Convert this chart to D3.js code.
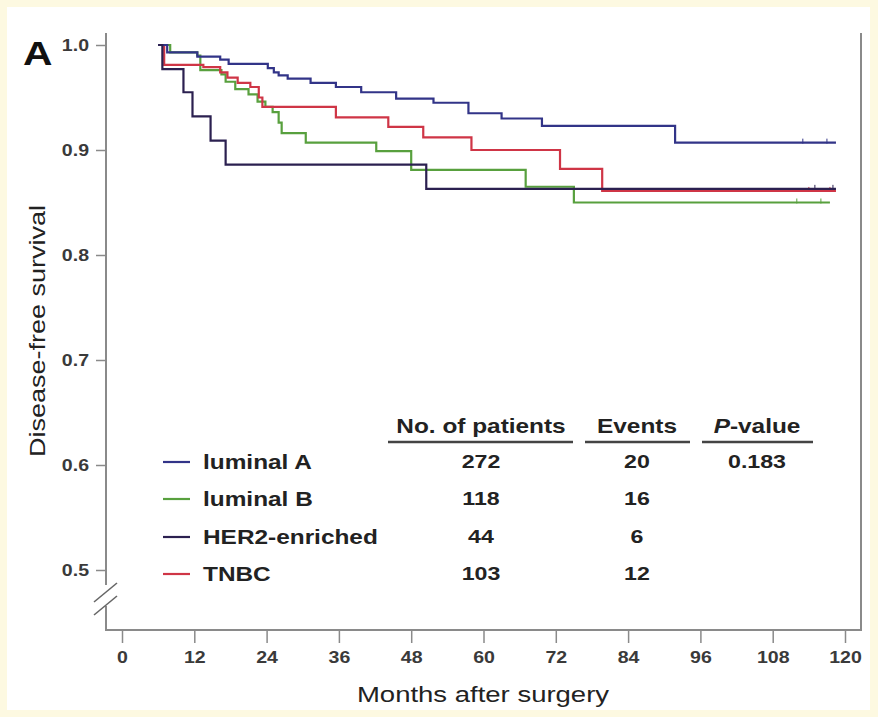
<!DOCTYPE html>
<html><head><meta charset="utf-8">
<script src="https://cdn.jsdelivr.net/npm/d3@7"></script>
<style>
html,body{margin:0;padding:0;background:#fdf9e1;}
svg{display:block;font-family:"Liberation Sans",Arial,sans-serif;}
</style></head>
<body><svg id="c" width="878" height="717"></svg>
<script>
// ---- data ----
const seriesNames = ["luminal A","luminal B","HER2-enriched","TNBC"];
const lumA_t = [6,7.5,12.5,16.3,17.7,24.2,25.2,26,27.5,31.3,35.5,39.7,45.5,51.7,57.5,63,69.7,91.8,118.5];
const lumA_s = [1.0,0.993,0.989,0.986,0.982,0.978,0.974,0.971,0.968,0.964,0.960,0.955,0.949,0.945,0.935,0.930,0.923,0.907,0.907];
const lumB_t = [6,8,12.5,13,16.5,17.2,18.8,21,22.5,23.8,25,26,26.5,30.5,42.2,48,67,75,117.5];
const lumB_s = [1.0,0.993,0.990,0.976,0.972,0.965,0.958,0.953,0.946,0.941,0.936,0.926,0.916,0.907,0.899,0.881,0.865,0.850,0.850];
const her2_t = [6,6.7,10.2,11.7,14.7,17.2,50.5,118.5];
const her2_s = [1.0,0.977,0.955,0.932,0.909,0.886,0.863,0.863];
const tnbc_t = [6,7,13.5,16.3,17.5,19.2,21.3,22.7,23.3,35.5,44.2,50,58,72.7,79.7,118.5];
const tnbc_s = [1.0,0.981,0.979,0.974,0.969,0.964,0.960,0.950,0.941,0.931,0.922,0.912,0.900,0.882,0.861,0.861];
const censorT = [[113,117],[112,116],[115,118],[114,117.5]];
const patients = ["272","118","44","103"];
const events = ["20","16","6","12"];
const pValue = "0.183";
const xTicks = [0,12,24,36,48,60,72,84,96,108,120];
const yTicks = [0.5,0.6,0.7,0.8,0.9,1.0];
const colors = ["#323488","#58a03e","#2b2050","#cf3546"];

const SX = 1.22; // horizontal stretch of the original lettering
const svg = d3.select("#c");
svg.append("rect").attr("x",7).attr("y",7).attr("width",863).attr("height",703).attr("fill","#ffffff");

function txt(parent, px, py, str, size, weight, anchor, sx){
  const g = parent.append("g").attr("transform",`translate(${px},${py}) scale(${sx||SX},1)`);
  return g.append("text").attr("text-anchor",anchor||"start").attr("font-size",size)
    .attr("font-weight",weight||"normal").attr("fill","#222").text(str);
}

const x = d3.scaleLinear().domain([0,120]).range([122,845]);
const y = d3.scaleLinear().domain([0.5,1.0]).range([570,45]);
const axisCol = "#8a8a8a";

// frame
svg.append("line").attr("x1",106).attr("x2",106).attr("y1",33).attr("y2",585).attr("stroke",axisCol).attr("stroke-width",2);
svg.append("line").attr("x1",106).attr("x2",106).attr("y1",606).attr("y2",631).attr("stroke",axisCol).attr("stroke-width",2);
svg.append("line").attr("x1",105).attr("x2",862).attr("y1",630).attr("y2",630).attr("stroke",axisCol).attr("stroke-width",2);
svg.append("line").attr("x1",861).attr("x2",861).attr("y1",33).attr("y2",631).attr("stroke",axisCol).attr("stroke-width",2);
// break marks
[0,13].forEach(d=>{
  svg.append("line").attr("x1",94).attr("y1",602+d).attr("x2",117).attr("y2",583+d).attr("stroke","#666").attr("stroke-width",1.6);
});

// y axis
const yAxis = d3.axisLeft(y).tickValues(yTicks).tickFormat(d3.format(".1f")).tickSize(10).tickPadding(6);
const gy = svg.append("g").attr("transform","translate(106,0)").call(yAxis);
gy.select(".domain").remove();
gy.selectAll(".tick line").attr("stroke",axisCol).attr("stroke-width",1.5);
gy.selectAll(".tick text").attr("x",0).attr("transform",`translate(-17,0) scale(1.15,1)`)
  .attr("font-size",17).attr("fill","#3a3a3a").attr("font-family","Liberation Sans, Arial, sans-serif").attr("font-weight","bold").attr("dy","0.35em");

// x axis
const xAxis = d3.axisBottom(x).tickValues(xTicks).tickSize(12).tickPadding(8);
const gx = svg.append("g").attr("transform","translate(0,631)").call(xAxis);
gx.select(".domain").remove();
gx.selectAll(".tick line").attr("stroke",axisCol).attr("stroke-width",1.5);
gx.selectAll(".tick text").attr("transform","scale(1.15,1)").attr("font-size",17).attr("fill","#3a3a3a").attr("font-family","Liberation Sans, Arial, sans-serif").attr("font-weight","bold");

// labels
txt(svg,483,702,"Months after surgery",22,"normal","middle",1.25);
svg.append("text").attr("transform","translate(45,331) rotate(-90)").attr("text-anchor","middle").attr("font-size",22)
  .attr("textLength",252).attr("lengthAdjust","spacingAndGlyphs").attr("fill","#222").text("Disease-free survival");
txt(svg,23,65,"A",34,"bold","start",1.2).attr("fill","#111");

// curves
const seriesT = [lumA_t,lumB_t,her2_t,tnbc_t];
const seriesS = [lumA_s,lumB_s,her2_s,tnbc_s];
const line = d3.line().x(d=>x(d[0])).y(d=>y(d[1])).curve(d3.curveStepAfter);
const order = [1,3,0,2];
order.forEach(i=>{
  const pts = seriesT[i].map((t,k)=>[t,seriesS[i][k]]);
  svg.append("path").attr("d",line(pts)).attr("fill","none").attr("stroke",colors[i]).attr("stroke-width",2.2);
  const last = seriesS[i][seriesS[i].length-1];
  censorT[i].forEach(t=>{
    svg.append("line").attr("x1",x(t)).attr("x2",x(t)).attr("y1",y(last)-4).attr("y2",y(last)+1).attr("stroke",colors[i]).attr("stroke-width",1);
  });
});

// legend
const legY = [462,499,537,574];
seriesNames.forEach((n,i)=>{
  svg.append("line").attr("x1",163).attr("x2",190).attr("y1",legY[i]).attr("y2",legY[i]).attr("stroke",colors[i]).attr("stroke-width",2.2);
  txt(svg,203,legY[i]+7,n,20,"bold","start");
});

// table
const cols = [{h:"No. of patients",cx:481,x1:388,x2:573,v:patients},
              {h:"Events",cx:637,x1:585,x2:690,v:events},
              {h:"P-value",cx:757,x1:702,x2:813,v:[pValue,"","",""]}];
cols.forEach((c,ci)=>{
  const t = txt(svg,c.cx,433,ci===2?"":c.h,20,"bold","middle");
  if(ci===2){ t.append("tspan").attr("font-style","italic").text("P"); t.append("tspan").text("-value"); }
  svg.append("line").attr("x1",c.x1).attr("x2",c.x2).attr("y1",442).attr("y2",442).attr("stroke","#444").attr("stroke-width",2.5);
  c.v.forEach((v,k)=>{
    if(v) txt(svg,c.cx,legY[k]+6,v,19,"bold","middle");
  });
});
</script></body></html>
